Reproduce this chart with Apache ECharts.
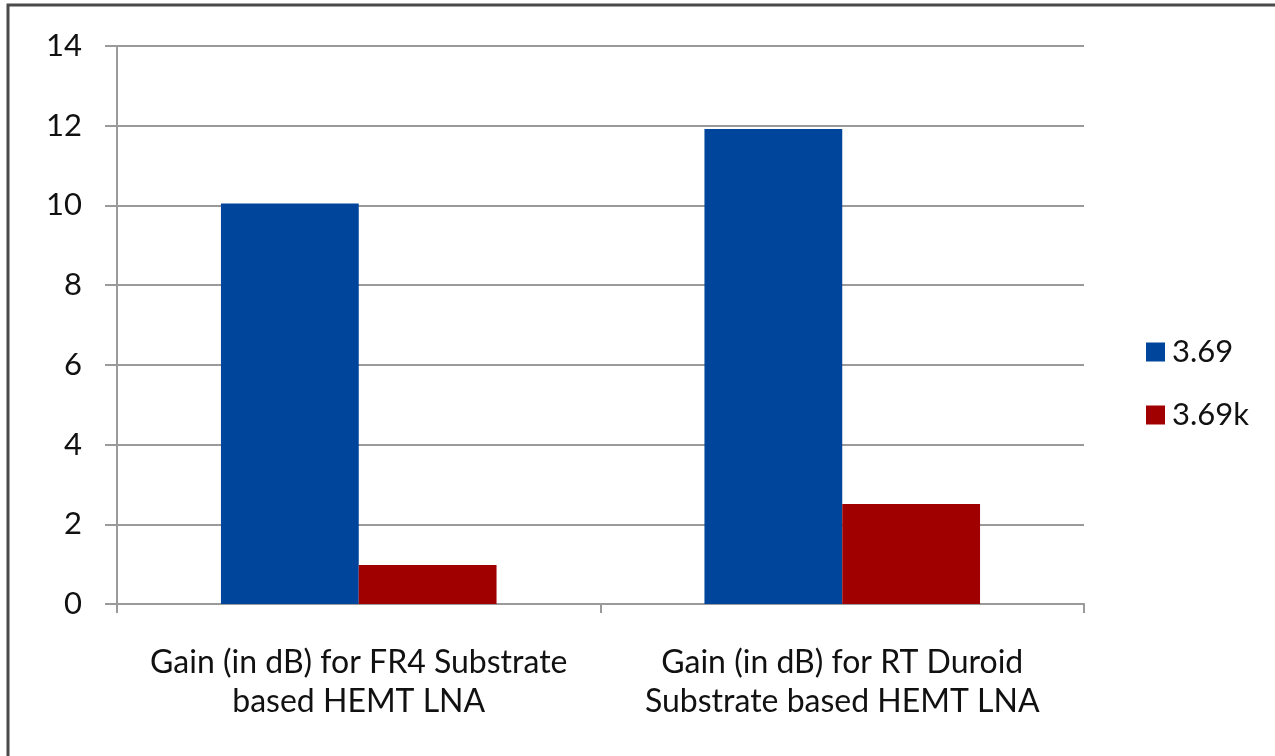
<!DOCTYPE html>
<html>
<head>
<meta charset="utf-8">
<script src="https://cdn.jsdelivr.net/npm/echarts@6/dist/echarts.min.js"></script>
<style>
  html, body { margin: 0; padding: 0; background: #ffffff; }
  #chart { width: 1275px; height: 756px; }
</style>
</head>
<body>
<div id="chart"></div>
<script>
// Gain of HEMT LNA on two substrates
const categories = [
  'Gain (in dB) for FR4 Substrate\nbased HEMT LNA',
  'Gain (in dB) for RT Duroid\nSubstrate based HEMT LNA'
];
const seriesNames = ['3.69', '3.69k'];
const values369 = [10.05, 11.92];
const values369k = [0.98, 2.51];
const yTicks = { min: 0, max: 14, interval: 2 };

const FONT = 'Lato, "Open Sans", sans-serif';
const gridColor = '#9a9a9a';

const chart = echarts.init(document.getElementById('chart'), null, { renderer: 'canvas' });
chart.setOption({
  backgroundColor: '#ffffff',
  animation: false,
  grid: { left: 117, right: 191, top: 46, bottom: 152 },
  legend: {
    orient: 'vertical',
    left: 1141,
    top: 331,
    icon: 'rect',
    itemWidth: 19,
    itemHeight: 19,
    itemGap: 31,
    textStyle: { fontFamily: FONT, fontSize: 31, color: '#111', lineHeight: 32, padding: [0, 0, 0, 2] },
    data: seriesNames
  },
  xAxis: {
    type: 'category',
    data: categories,
    axisLine: { lineStyle: { color: gridColor, width: 2 } },
    axisTick: { show: true, length: 9, lineStyle: { color: gridColor, width: 2 } },
    axisLabel: {
      fontFamily: FONT, fontSize: 32, color: '#111', lineHeight: 39, margin: 39, interval: 0
    }
  },
  yAxis: {
    type: 'value',
    min: yTicks.min,
    max: yTicks.max,
    interval: yTicks.interval,
    axisLine: { show: true, lineStyle: { color: gridColor, width: 2 } },
    axisTick: { show: true, length: 12, lineStyle: { color: gridColor, width: 2 } },
    axisLabel: { fontFamily: FONT, fontSize: 31, color: '#111', margin: 35 },
    splitLine: { show: true, lineStyle: { color: gridColor, width: 2 } }
  },
  series: [
    {
      name: seriesNames[0], type: 'bar', data: values369,
      barGap: '0%', barCategoryGap: '43%',
      itemStyle: { color: '#00459c' }
    },
    {
      name: seriesNames[1], type: 'bar', data: values369k,
      barGap: '0%', barCategoryGap: '43%',
      itemStyle: { color: '#a00000' }
    }
  ],
  graphic: [
    {
      type: 'polyline',
      shape: { points: [[8, 756], [8, 5], [1275, 5]] },
      style: { stroke: '#4a4a4a', lineWidth: 3, fill: null }
    }
  ]
});
</script>
</body>
</html>
